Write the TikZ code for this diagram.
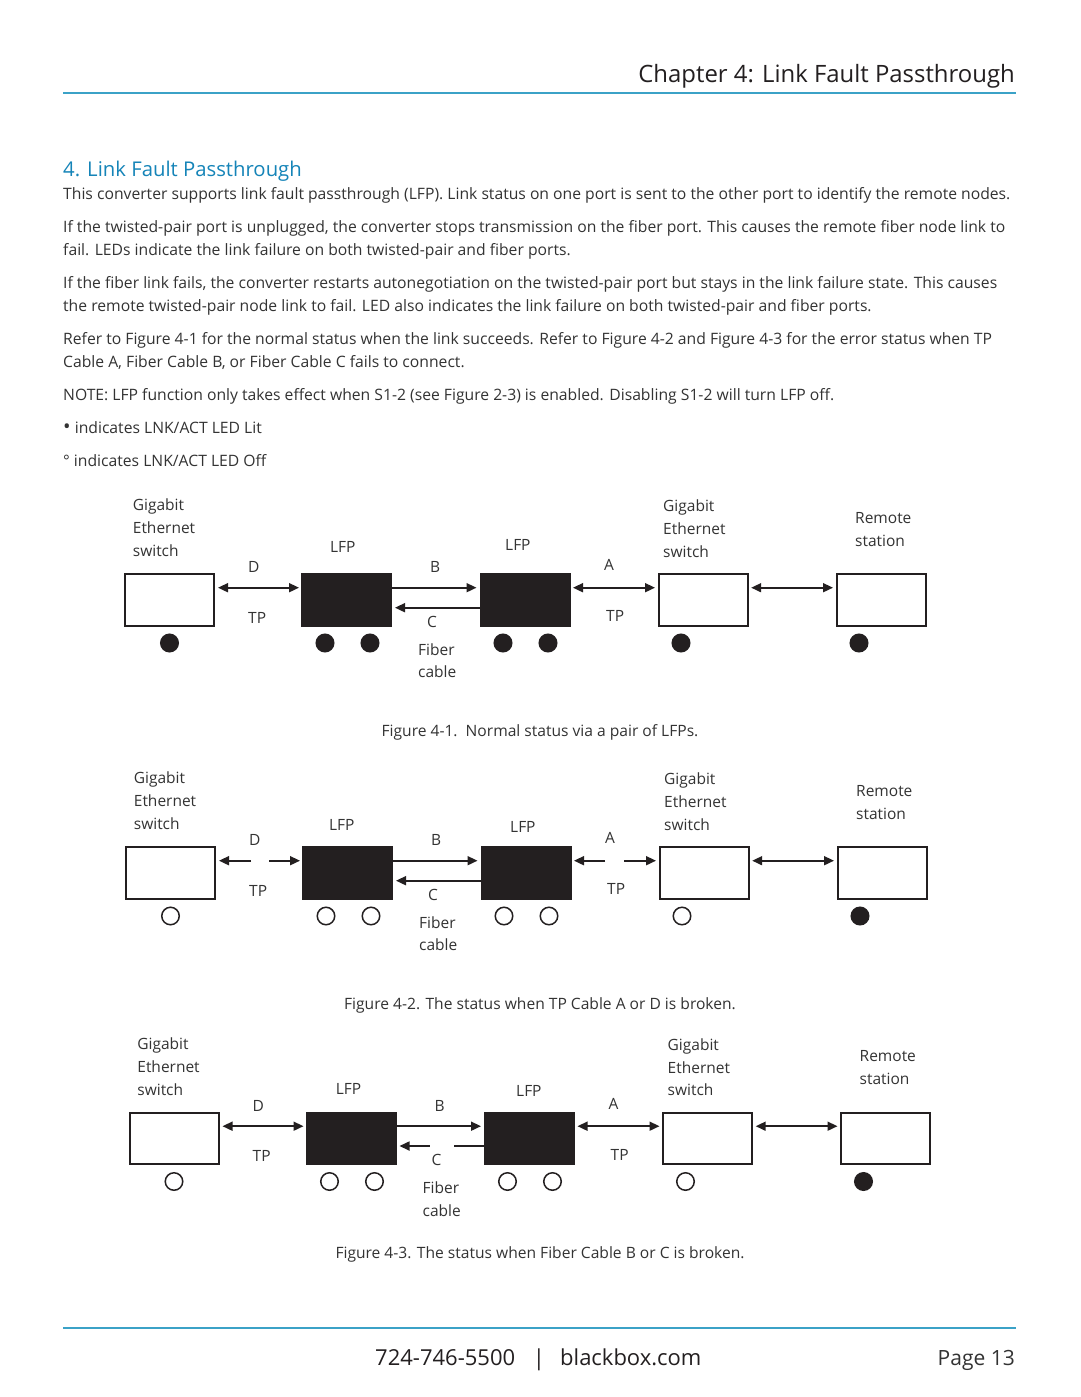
\documentclass[tikz,border=0pt]{standalone}
\usepackage{fontspec}
\setmainfont{Open Sans}
\usetikzlibrary{arrows.meta,calc}
\definecolor{ink}{HTML}{231F20}
\definecolor{txt}{HTML}{333333}
\definecolor{hblue}{HTML}{1584B8}
\definecolor{rulec}{HTML}{3BA2C7}
\tikzset{
  box/.style={draw=ink, line width=2pt, fill=white, minimum width=89pt, minimum height=51.5pt, inner sep=0pt, outer sep=0pt, anchor=north west},
  lfp/.style={box, fill=ink},
  led/.style={circle, draw=ink, line width=1.5pt, fill=white, minimum size=17.5pt, inner sep=0pt},
  ledon/.style={led, fill=ink},
  lbl/.style={anchor=base west, inner sep=0pt, text=txt, font=\fontsize{15.5}{18}\selectfont},
  body/.style={anchor=base west, inner sep=0pt, text=txt, font=\fontsize{15.7}{18}\selectfont},
  captext/.style={anchor=base, inner sep=0pt, text=txt, font=\fontsize{15.6}{18}\selectfont},
  conn/.style={draw=ink, line width=1.7pt},
  arr/.style={conn, -{Triangle[length=10pt,width=9pt]}},
  darr/.style={conn, {Triangle[length=10pt,width=9pt]}-{Triangle[length=10pt,width=9pt]}},
  rulel/.style={draw=rulec, line width=1.5pt},
}
% #1 suffix, #2 x shift, #3 y shift, #4 led style, #5 LFP1 label pos, #6 LFP2 label pos
\newcommand\figrow[6]{%
\begin{scope}[shift={(#2,#3)}]
  \node[box] (sw#1) at (125,574) {};
  \node[lfp] (la#1) at (302,574) {};
  \node[lfp] (lb#1) at (480.5,574) {};
  \node[box] (sx#1) at (658.5,574) {};
  \node[box] (rs#1) at (836.5,574) {};
  \node[#4] (ea#1) at (169.5,643) {};
  \node[#4] (eb#1) at (325,643) {};
  \node[#4] (ec#1) at (370,643) {};
  \node[#4] (ed#1) at (503,643) {};
  \node[#4] (ee#1) at (548,643) {};
  \node[#4] (ef#1) at (681,643) {};
  \node[ledon] (eg#1) at (859,643) {};
  \node[lbl] (ga#1) at (132.7,510.7) {Gigabit};
  \node[lbl] (gb#1) at (132.7,533.7) {Ethernet};
  \node[lbl] (gc#1) at (132.7,556.5) {switch};
  \node[lbl] (ha#1) at (663,511.7) {Gigabit};
  \node[lbl] (hb#1) at (663,534.5) {Ethernet};
  \node[lbl] (hc#1) at (663,557) {switch};
  \node[lbl] (ra#1) at (855,523.3) {Remote};
  \node[lbl] (rb#1) at (855,546) {station};
  \node[lbl] (fa#1) at #5 {LFP};
  \node[lbl] (fb#1) at #6 {LFP};
  \node[lbl] (tD#1) at (248,572.7) {D};
  \node[lbl] (tT#1) at (248,623) {TP};
  \node[lbl] (tB#1) at (430,572.7) {B};
  \node[lbl] (tC#1) at (427,627) {C};
  \node[lbl] (tF#1) at (418,655) {Fiber};
  \node[lbl] (tc#1) at (418,677.5) {cable};
  \node[lbl] (tA#1) at (604,570.7) {A};
  \node[lbl] (tU#1) at (606,621.7) {TP};
\end{scope}}
\begin{document}
\begin{tikzpicture}[x=1pt,y=-1pt]
\fill[white] (0,0) rectangle (1080,1397);
\path[use as bounding box] (0,0) rectangle (1080,1397);

% header
\node[anchor=base east, inner sep=0pt, text=ink, font=\fontsize{23.9}{30}\selectfont] (chap) at (1015,82) {Chapter 4: Link Fault Passthrough};
\draw[rulel] (63,93) -- (1016,93);

\node[anchor=base west, inner sep=0pt, text=hblue, font=\fontsize{20.3}{26}\selectfont] (head) at (63,176) {4. Link Fault Passthrough};

\node[body] (p1) at (63,199.5) {This converter supports link fault passthrough (LFP). Link status on one port is sent to the other port to identify the remote nodes.};
\node[body] (p2) at (63,232.5) {If the twisted-pair port is unplugged, the converter stops transmission on the fiber port. This causes the remote fiber node link to};
\node[body] (p3) at (63,255.5) {fail. LEDs indicate the link failure on both twisted-pair and fiber ports.};
\node[body] (p4) at (63,288.5) {If the fiber link fails, the converter restarts autonegotiation on the twisted-pair port but stays in the link failure state. This causes};
\node[body] (p5) at (63,311.5) {the remote twisted-pair node link to fail. LED also indicates the link failure on both twisted-pair and fiber ports.};
\node[body] (p6) at (63,344.5) {Refer to Figure 4-1 for the normal status when the link succeeds. Refer to Figure 4-2 and Figure 4-3 for the error status when TP};
\node[body] (p7) at (63,367.5) {Cable A, Fiber Cable B, or Fiber Cable C fails to connect.};
\node[body] (p8) at (63,400.5) {NOTE: LFP function only takes effect when S1-2 (see Figure 2-3) is enabled. Disabling S1-2 will turn LFP off.};
\node[body] (p9) at (63,433.5) {{\fontsize{20}{18}\selectfont •} indicates LNK/ACT LED Lit};
\node[body] (p10) at (63,466.5) {° indicates LNK/ACT LED Off};

% figure 4-1
\figrow{1}{0}{0}{ledon}{(330,552.3)}{(505,550)}
\draw[darr] ($(sw1.north east)+(4,13.7)$) -- ($(la1.north west)+(-3,13.7)$);
\draw[arr] ($(la1.north east)+(0,13.7)$) -- ($(lb1.north west)+(-4,13.7)$);
\draw[arr] ($(lb1.north west)+(0,33.7)$) -- ($(la1.north east)+(4,33.7)$);
\draw[darr] ($(lb1.north east)+(3.5,13.7)$) -- ($(sx1.north west)+(-3.5,13.7)$);
\draw[darr] ($(sx1.north east)+(3.7,13.7)$) -- ($(rs1.north west)+(-3.5,13.7)$);
\node[captext] (cap1) at (540,736) {Figure 4-1.\ \ Normal status via a pair of LFPs.};

% figure 4-2
\figrow{2}{1}{273}{led}{(328,557.3)}{(509,559.3)}
\draw[arr] ($(sw2.north east)+(36,13.7)$) -- ($(sw2.north east)+(4,13.7)$);
\draw[arr] ($(la2.north west)+(-34,13.7)$) -- ($(la2.north west)+(-3,13.7)$);
\draw[arr] ($(la2.north east)+(0,13.7)$) -- ($(lb2.north west)+(-4,13.7)$);
\draw[arr] ($(lb2.north west)+(0,33.7)$) -- ($(la2.north east)+(4,33.7)$);
\draw[arr] ($(lb2.north east)+(34.5,13.7)$) -- ($(lb2.north east)+(3.5,13.7)$);
\draw[arr] ($(sx2.north west)+(-35.5,13.7)$) -- ($(sx2.north west)+(-3.5,13.7)$);
\draw[darr] ($(sx2.north east)+(3.7,13.7)$) -- ($(rs2.north west)+(-3.5,13.7)$);
\node[captext] (cap2) at (540,1009) {Figure 4-2. The status when TP Cable A or D is broken.};

% figure 4-3
\figrow{3}{4.5}{538.5}{led}{(331.2,555.5)}{(511.5,557.5)}
\draw[darr] ($(sw3.north east)+(4,13.7)$) -- ($(la3.north west)+(-3,13.7)$);
\draw[arr] ($(la3.north east)+(0,13.7)$) -- ($(lb3.north west)+(-4,13.7)$);
\draw[arr] ($(la3.north east)+(34,33.5)$) -- ($(la3.north east)+(4,33.5)$);
\draw[conn] ($(lb3.north west)+(-31,33.5)$) -- ($(lb3.north west)+(0,33.5)$);
\draw[darr] ($(lb3.north east)+(3.5,13.7)$) -- ($(sx3.north west)+(-3.5,13.7)$);
\draw[darr] ($(sx3.north east)+(3.7,13.7)$) -- ($(rs3.north west)+(-3.5,13.7)$);
\node[captext] (cap3) at (540,1258) {Figure 4-3. The status when Fiber Cable B or C is broken.};

% footer
\draw[rulel] (63,1328) -- (1016,1328);
\node[anchor=base west, inner sep=0pt, text=ink, font=\fontsize{22}{26}\selectfont] (phone) at (375,1365) {724-746-5500};
\node[anchor=base, inner sep=0pt, text=ink, font=\fontsize{22}{26}\selectfont] (bar) at (539,1365) {|};
\node[anchor=base west, inner sep=0pt, text=ink, font=\fontsize{22}{26}\selectfont] (web) at (560,1365) {blackbox.com};
\node[anchor=base east, inner sep=0pt, text=txt, font=\fontsize{21}{26}\selectfont] (page) at (1015,1365) {Page 13};
\end{tikzpicture}
\end{document}
